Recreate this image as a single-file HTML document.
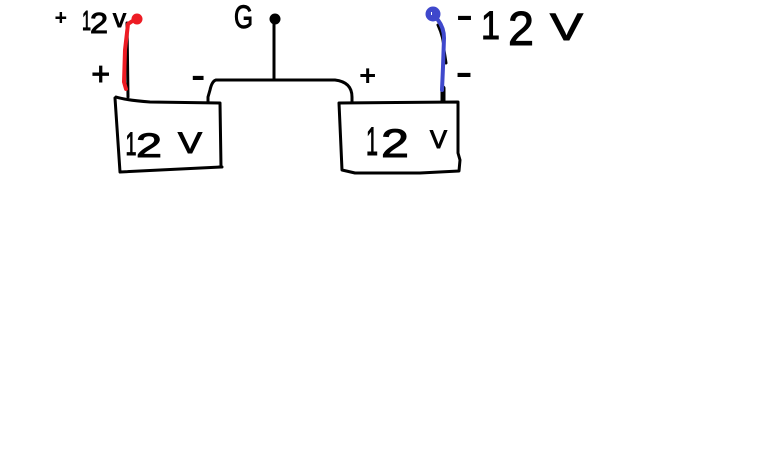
<!DOCTYPE html>
<html>
<head>
<meta charset="utf-8">
<style>
html,body{margin:0;padding:0;background:#fff;width:768px;height:460px;overflow:hidden}
svg{display:block}
text{font-family:"Liberation Sans",sans-serif;fill:#000;stroke:#000;stroke-width:1px}
.w{fill:none;stroke:#000;stroke-width:3;stroke-linecap:round;stroke-linejoin:round}
</style>
</head>
<body>
<svg width="768" height="460" viewBox="0 0 768 460" xmlns="http://www.w3.org/2000/svg">
<rect width="768" height="460" fill="#fff"/>

<!-- left box -->
<path class="w" d="M116 97 Q125 100 150 102 L220 103 L221 167 L120 172 L115 98"/>
<path class="w" d="M222 167 L219 167"/>
<!-- right box -->
<path class="w" d="M339 103 L458 102 L458 153 L460 160 L459 171 L420 173 L355 173 L342 170 L339 103"/>

<!-- wires -->
<path class="w" d="M128 97 L127 23"/>
<path d="M126 89 L124 82 L125 50 L128 24 L134 20" fill="none" stroke="#ed1c24" stroke-width="4" stroke-linecap="round" stroke-linejoin="round"/>
<circle cx="137" cy="19" r="5.5" fill="#ed1c24"/>

<path class="w" d="M208 102 L208 97 L210 90 Q212 81 216 80 L335 80 Q352 82 352 97 L352 102"/>
<path class="w" d="M274 20 L274 80"/>
<circle cx="275" cy="19" r="5.5" fill="#000"/>

<path class="w" d="M438 25 Q444 38 444 50 L446 63"/>
<path class="w" d="M443 88 L443 101" style="stroke-width:5"/>
<path d="M438 20 Q444 28 444 38 L443 67 L442 90" fill="none" stroke="#3f48cc" stroke-width="4" stroke-linecap="round" stroke-linejoin="round"/>
<circle cx="433" cy="14" r="7.5" fill="#3f48cc"/>
<rect x="431" y="12" width="1" height="3" fill="#fff"/>

<!-- top-left label -->
<text x="55" y="24.5" font-size="20">+</text>
<text x="82" y="30" font-size="28" textLength="9" lengthAdjust="spacingAndGlyphs">1</text>
<text x="90" y="33" font-size="29" textLength="18" lengthAdjust="spacingAndGlyphs">2</text>
<text x="113" y="27" font-size="26">v</text>

<!-- polarity marks -->
<text x="91.4" y="85" font-size="32">+</text>
<text x="191.5" y="88.5" font-size="40">-</text>
<text x="359.5" y="85" font-size="28">+</text>
<text x="456" y="85.5" font-size="40" textLength="16" lengthAdjust="spacingAndGlyphs">-</text>

<!-- G -->
<text x="234" y="28" font-size="32" textLength="19" lengthAdjust="spacingAndGlyphs">G</text>

<!-- top-right label -->
<text x="456.5" y="28.5" font-size="40" textLength="16" lengthAdjust="spacingAndGlyphs">-</text>
<text x="481" y="39" font-size="40" textLength="19" lengthAdjust="spacingAndGlyphs">1</text>
<text x="508" y="45" font-size="48" textLength="26" lengthAdjust="spacingAndGlyphs">2</text>
<text x="550" y="40" font-size="38" textLength="33" lengthAdjust="spacingAndGlyphs">V</text>

<!-- left box label -->
<text x="125.5" y="155" font-size="32" textLength="11" lengthAdjust="spacingAndGlyphs">1</text>
<text x="136" y="157" font-size="34" textLength="26" lengthAdjust="spacingAndGlyphs">2</text>
<text x="178" y="153" font-size="30" textLength="24" lengthAdjust="spacingAndGlyphs">V</text>

<!-- right box label -->
<text x="366" y="155" font-size="40" textLength="12" lengthAdjust="spacingAndGlyphs">1</text>
<text x="381" y="157" font-size="40" textLength="28" lengthAdjust="spacingAndGlyphs">2</text>
<text x="430" y="148" font-size="25" textLength="17" lengthAdjust="spacingAndGlyphs">V</text>
</svg>
</body>
</html>
